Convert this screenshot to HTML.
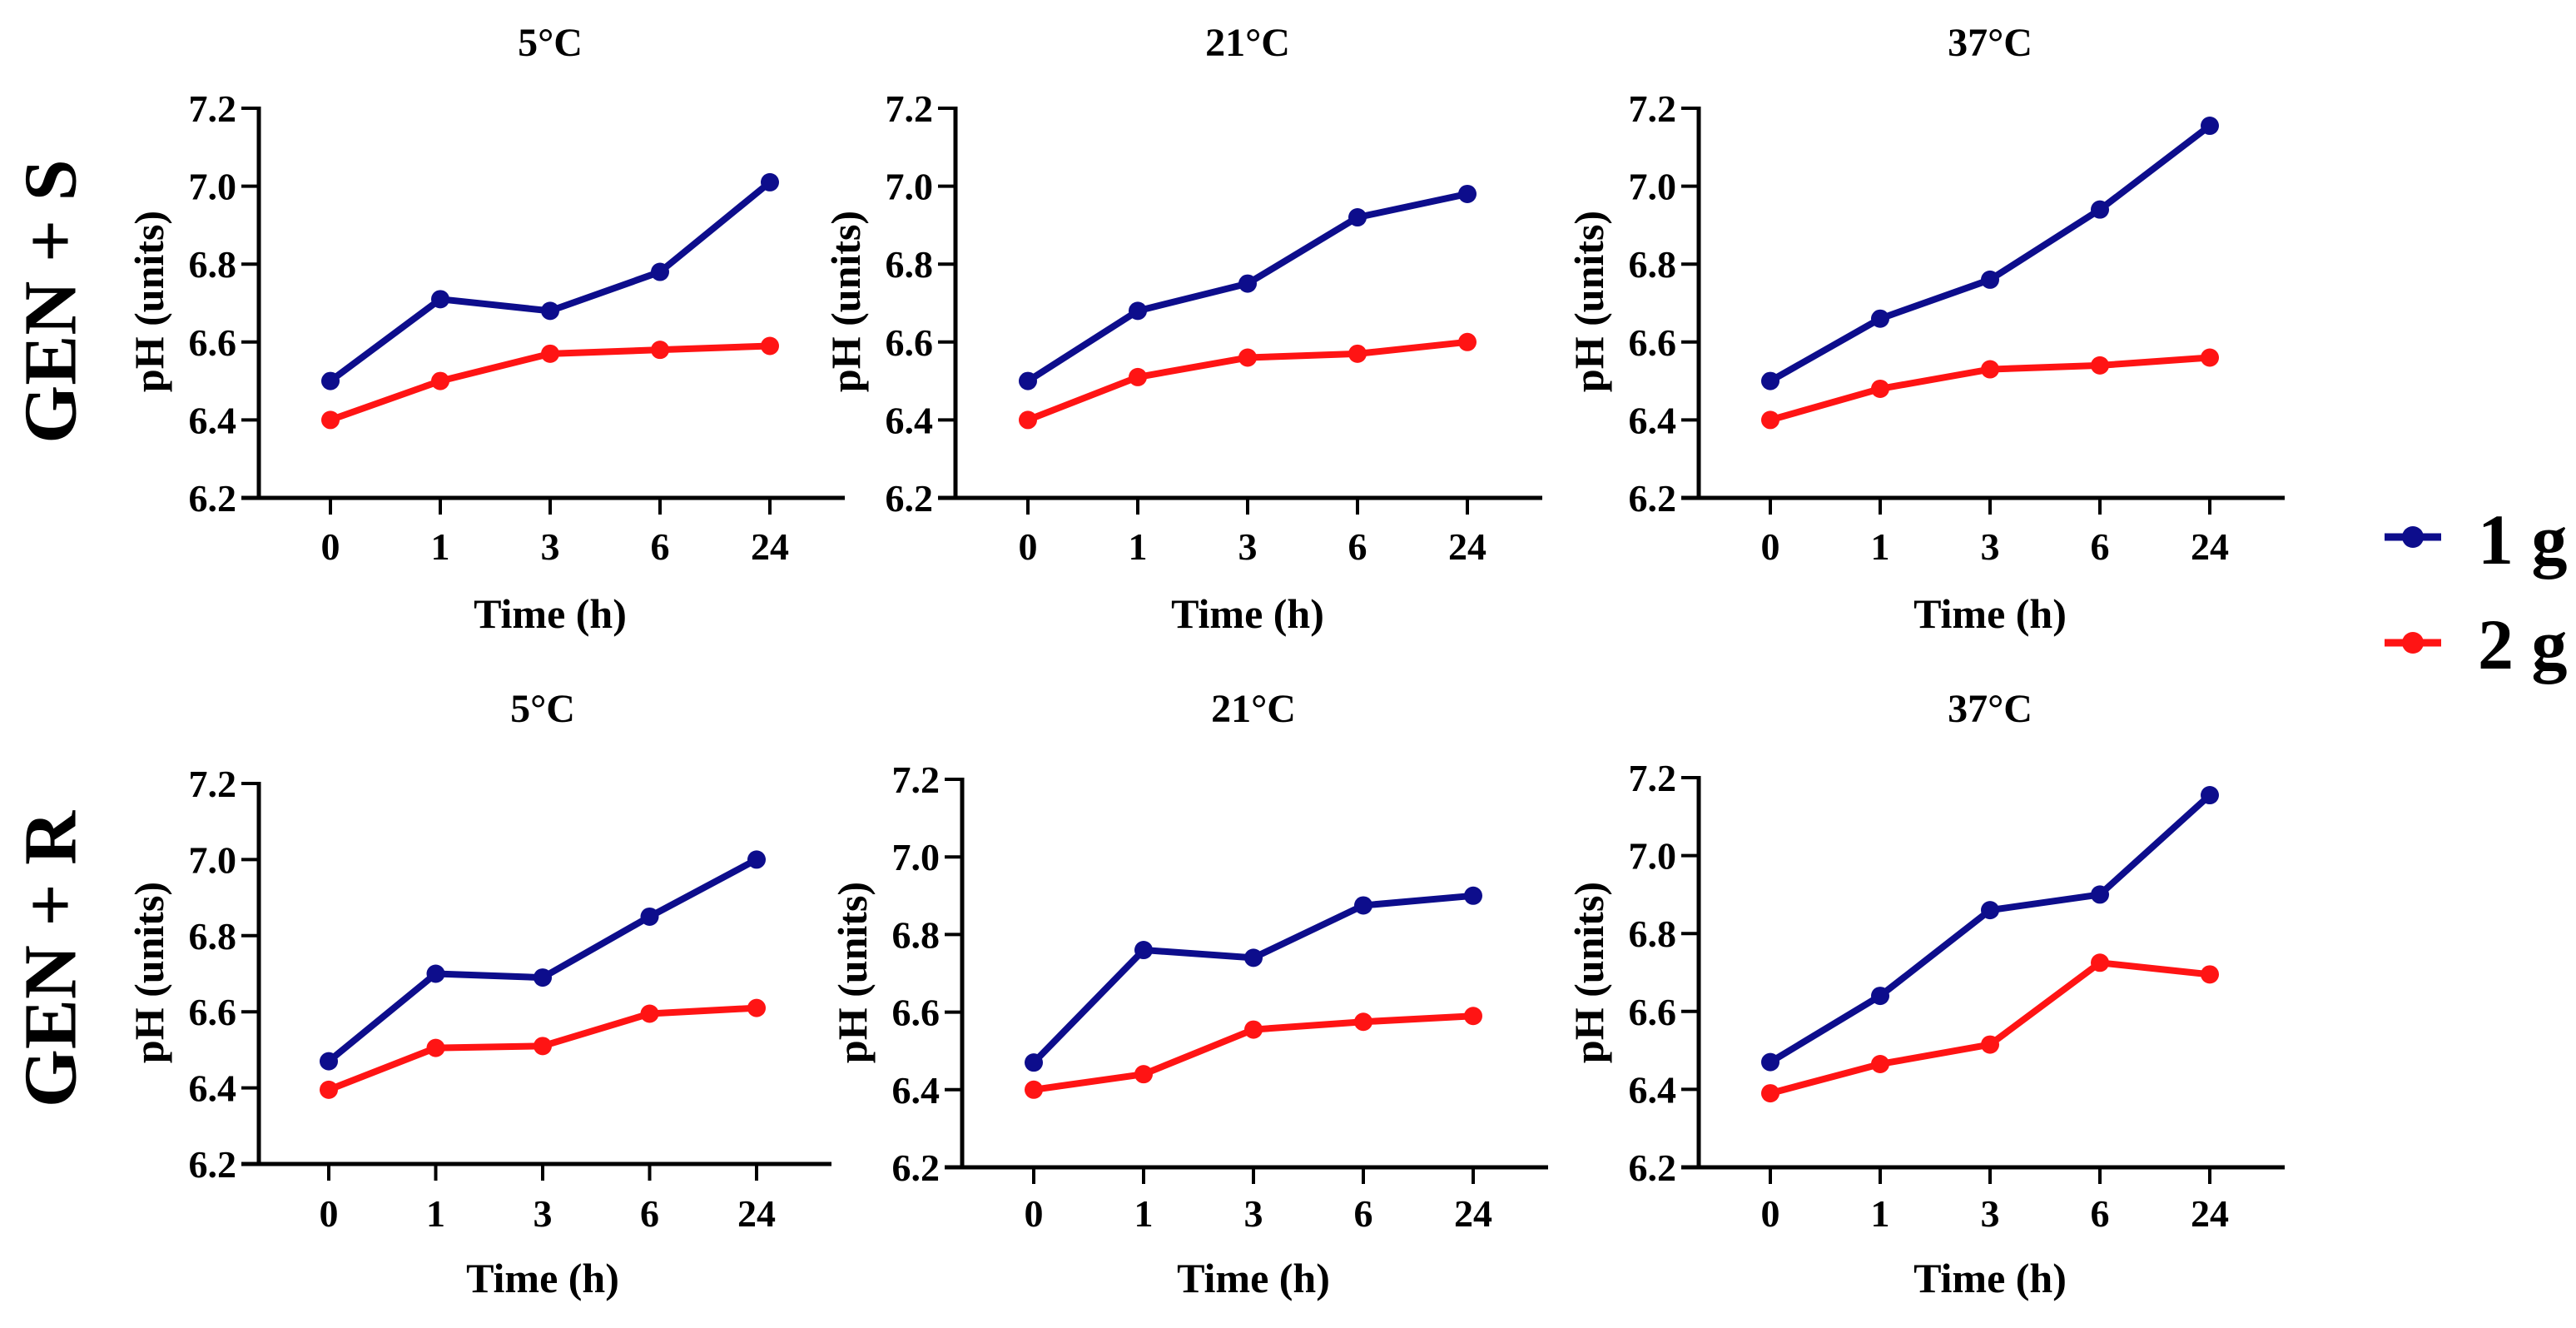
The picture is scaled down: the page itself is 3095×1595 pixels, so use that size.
<!DOCTYPE html>
<html><head><meta charset="utf-8">
<style>
html,body{margin:0;padding:0;background:#fff;}
svg{display:block;}
text{font-family:"Liberation Serif",serif;font-weight:bold;fill:#000;}
</style></head>
<body>
<svg id="chart" width="3095" height="1595" viewBox="0 0 3095 1595" xmlns="http://www.w3.org/2000/svg">
<text x="61" y="362" font-size="90" text-anchor="middle" dominant-baseline="central" transform="rotate(-90 61 362)">GEN + S</text>
<text x="61" y="1152" font-size="90" text-anchor="middle" dominant-baseline="central" transform="rotate(-90 61 1152)">GEN + R</text>
<g>
  <line x1="2865" y1="645" x2="2933" y2="645" stroke="#0d0d8c" stroke-width="9"/>
  <circle cx="2899" cy="645" r="13" fill="#0d0d8c"/>
  <text x="2977" y="677" font-size="86">1 g</text>
  <line x1="2865" y1="772" x2="2933" y2="772" stroke="#ff1414" stroke-width="9"/>
  <circle cx="2899" cy="772" r="13" fill="#ff1414"/>
  <text x="2977" y="803" font-size="86">2 g</text>
</g>
</svg>
<script>
const categories = ["0","1","3","6","24"];
const yTicks = [6.2, 6.4, 6.6, 6.8, 7.0, 7.2];
const yTickLabels = ["6.2","6.4","6.6","6.8","7.0","7.2"];
const panelTitles = ["5°C","21°C","37°C","5°C","21°C","37°C"];
const s5_1g = [6.50, 6.71, 6.68, 6.78, 7.01];
const s5_2g = [6.40, 6.50, 6.57, 6.58, 6.59];
const s21_1g = [6.50, 6.68, 6.75, 6.92, 6.98];
const s21_2g = [6.40, 6.51, 6.56, 6.57, 6.60];
const s37_1g = [6.50, 6.66, 6.76, 6.94, 7.155];
const s37_2g = [6.40, 6.48, 6.53, 6.54, 6.56];
const r5_1g = [6.47, 6.70, 6.69, 6.85, 7.00];
const r5_2g = [6.395, 6.505, 6.51, 6.595, 6.61];
const r21_1g = [6.47, 6.76, 6.74, 6.875, 6.90];
const r21_2g = [6.40, 6.44, 6.555, 6.575, 6.59];
const r37_1g = [6.47, 6.64, 6.86, 6.90, 7.155];
const r37_2g = [6.39, 6.465, 6.515, 6.725, 6.695];
const err1g = [[0,0,0,0,0.015],[0,0,0,0,0.01],[0,0,0.015,0,0.008],[0,0,0,0,0],[0,0,0,0,0],[0,0.018,0.02,0,0.012]];
const series1g = [s5_1g, s21_1g, s37_1g, r5_1g, r21_1g, r37_1g];
const series2g = [s5_2g, s21_2g, s37_2g, r5_2g, r21_2g, r37_2g];

const NS = "http://www.w3.org/2000/svg";
const svg = document.getElementById("chart");
const BLUE = "#0d0d8c", RED = "#ff1414";
const layouts = [
  [311, 130, 598, 86, 132, 67, 672, 754, 362],
  [1148, 130, 598, 87, 132, 67, 672, 754, 362],
  [2041, 130, 598, 86, 132, 67, 672, 754, 362],
  [311, 941, 1398, 84, 128.5, 867, 1473, 1552, 1168],
  [1156, 936, 1402, 86, 132, 867, 1473, 1552, 1168],
  [2041, 934, 1402, 86, 132, 867, 1473, 1552, 1168]
];
function mk(tag, attrs, parent){
  const e = document.createElementNS(NS, tag);
  for (const k in attrs) e.setAttribute(k, attrs[k]);
  (parent||svg).appendChild(e);
  return e;
}
layouts.forEach((L, p) => {
  const [ax, yTop, yBot, off, step, titleY, tickLabY, xTitleY, ylabY] = L;
  const yScale = v => yBot - (v - 6.2) / (7.2 - 6.2) * (yBot - yTop);
  const xScale = i => ax + off + i * step;
  const g = mk("g", {});
  
  
  const cx = xScale(2);
  const t = mk("text", {x: cx, y: titleY, "font-size": 48, "text-anchor": "middle"}, g);
  t.textContent = panelTitles[p];
  
  
  const xEnd = xScale(4) + 90;
  const xa = mk("line", {x1: ax - 21, y1: yBot, x2: xEnd, y2: yBot, stroke: "#000", "stroke-width": 5}, g);
  
  
  const ya = mk("line", {x1: ax, y1: yTop - 2, x2: ax, y2: yBot + 2, stroke: "#000", "stroke-width": 5}, g);
  
  
  yTicks.forEach((v, i) => {
    const y = yScale(v);
    const tk = mk("line", {x1: ax - 21, y1: y, x2: ax, y2: y, stroke: "#000", "stroke-width": 4}, g);
    
    
    const tl = mk("text", {x: ax - 27, y: y + 16, "font-size": 46, "text-anchor": "end"}, g);
    tl.textContent = yTickLabels[i];
    
    
  });
  categories.forEach((c, i) => {
    const x = xScale(i);
    const tk = mk("line", {x1: x, y1: yBot, x2: x, y2: yBot + 20, stroke: "#000", "stroke-width": 4}, g);
    
    
    const tl = mk("text", {x: x, y: tickLabY, "font-size": 46, "text-anchor": "middle"}, g);
    tl.textContent = c;
    
    
  });
  const xt = mk("text", {x: cx, y: xTitleY, "font-size": 50, "text-anchor": "middle"}, g);
  xt.textContent = "Time (h)";
  
  
  const ylx = ax - 132;
  const yt = mk("text", {x: ylx, y: ylabY, "font-size": 50, "text-anchor": "middle", "dominant-baseline": "central", transform: "rotate(-90 " + ylx + " " + ylabY + ")"}, g);
  yt.textContent = "pH (units)";
  
  
  [[series2g[p], RED, '2g', null], [series1g[p], BLUE, '1g', err1g[p]]].forEach(([vals, col, nm, err]) => {
    const pts = vals.map((v, i) => xScale(i) + "," + yScale(v)).join(" ");
    const pl = mk("polyline", {points: pts, fill: "none", stroke: col, "stroke-width": 8, "stroke-linejoin": "round"}, g);
    
    
    vals.forEach((v, i) => {
      if (err && err[i] > 0) {
        const eb = mk("line", {x1: xScale(i), y1: yScale(v + err[i]), x2: xScale(i), y2: yScale(v - err[i]), stroke: col, "stroke-width": 5}, g);
        
        
      }
      const m = mk("circle", {cx: xScale(i), cy: yScale(v), r: 11, fill: col}, g);
      
      
    });
  });
});
</script>
</body></html>
